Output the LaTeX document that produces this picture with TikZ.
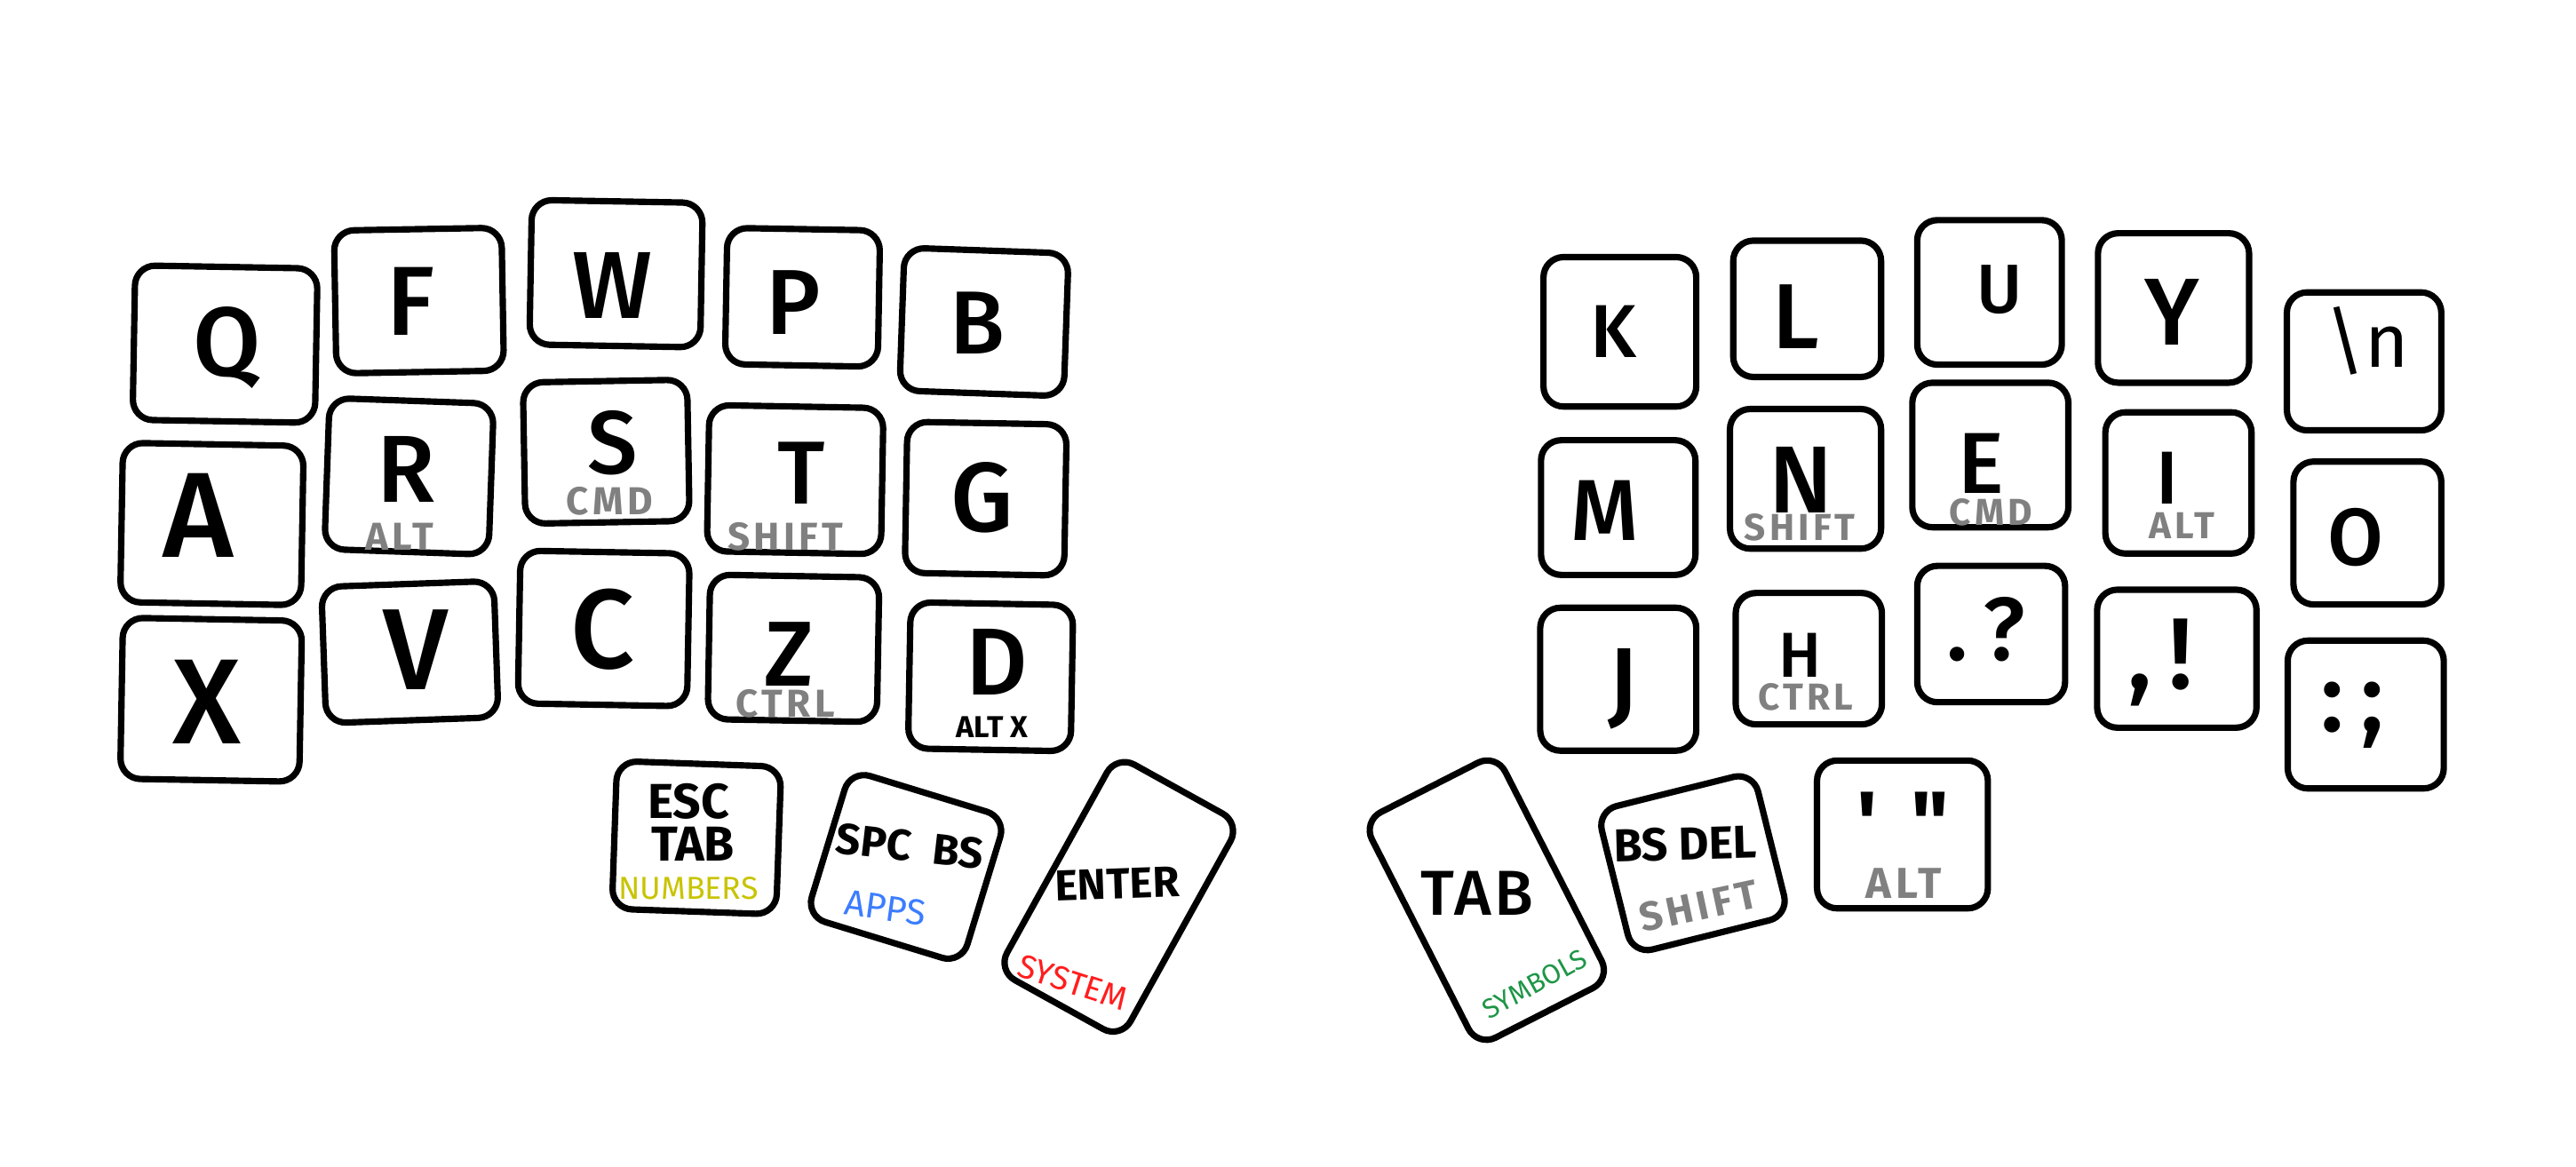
\documentclass[tikz,border=0pt]{standalone}
\usepackage{fontspec}
\setmainfont{Fira Sans}
\newfontfamily\medfont{Fira Sans Medium}
\definecolor{modgray}{RGB}{128,128,128}
\definecolor{numyellow}{RGB}{200,196,0}
\definecolor{appsblue}{RGB}{60,125,255}
\definecolor{sysred}{RGB}{255,30,30}
\definecolor{symgreen}{RGB}{30,150,70}
\begin{document}
\begin{tikzpicture}[x=0.02cm,y=-0.02cm,
  keybox/.style n args={3}{draw=black, line width=2.2pt, rounded corners=7pt,
    minimum width=#1*0.02cm, minimum height=#2*0.02cm, rotate=#3, inner sep=0pt, outer sep=0pt},
  letter/.style={font=\fontsize{#1}{#1}\selectfont\medfont, inner sep=0pt, text depth=0pt},
  midtext/.style={font=\fontsize{#1}{#1}\selectfont\bfseries, inner sep=0pt, text depth=0pt},
  modlabel/.style={text=modgray, font=\fontsize{#1}{#1}\selectfont\bfseries\addfontfeatures{LetterSpace=10}, inner sep=0pt, text depth=0pt},
  layerlabel/.style={font=\fontsize{#1}{#1}\selectfont, inner sep=0pt, text depth=0pt}]
\useasboundingbox (0,0) rectangle (1568,710);
% ---------- left half ----------
\node[keybox={111}{94}{-1}] (kq) at (137,209.5) {};
\node[keybox={102}{87}{1}] (kf) at (255,183) {};
\node[keybox={104}{88}{-1}] (kw) at (375,166.6) {};
\node[keybox={93}{83}{-1}] (kp) at (488.5,181) {};
\node[keybox={100}{87}{-2}] (kb) at (599,196) {};
\node[keybox={110}{97}{-1}] (ka) at (129,319) {};
\node[keybox={100}{92}{-2}] (kr) at (249,290) {};
\node[keybox={100}{86}{1}] (ks) at (369,275) {};
\node[keybox={106}{89}{-1}] (kt) at (484,292) {};
\node[keybox={97}{92}{-1}] (kg) at (600,303.6) {};
\node[keybox={109}{98}{-1}] (kx) at (128.5,426) {};
\node[keybox={105}{83}{2}] (kv) at (249.5,397) {};
\node[keybox={103}{93}{-1}] (kc) at (367.5,382.6) {};
\node[keybox={103}{88}{-1}] (kz) at (483,394.7) {};
\node[keybox={99}{89}{-1}] (kd) at (603,412) {};
\node[keybox={100}{90}{-2}] (kesc) at (424,510) {};
\node[keybox={99}{93}{-17}] (kspc) at (551.5,527.75) {};
\node[keybox={86}{150}{-29}] (kent) at (681,546) {};
% labels left
\node[letter=34] (lq) at (138,207.7) {Q};
\node[letter=34] (lf) at (250,183.5) {F};
\node[letter=33] (lw) at (373,173.9) {W};
\node[letter=32] (lp) at (483,184.1) {P};
\node[letter=31] (lb) at (595,196.8) {B};
\node[letter=42] (la) at (120.5,313.9) {A};
\node[letter=33] (lr) at (247,285.5) {R};
\node[modlabel=13.5] (mr) at (243,327) {ALT};
\node[letter=31] (ls) at (373,269.2) {S};
\node[modlabel=13.5] (ms) at (371,305) {CMD};
\node[letter=31] (lt) at (488,288) {T};
\node[modlabel=13.5] (mt) at (478,326.5) {SHIFT};
\node[letter=34] (lg) at (598,302.4) {G};
\node[letter=42] (lx) at (126,427.4) {X};
\node[letter=40] (lv) at (253,395.4) {V};
\node[letter=39] (lc) at (367,382.7) {C};
\node[letter=32] (lz) at (480,398) {Z};
\node[modlabel=13.5] (mz) at (478,428) {CTRL};
\node[letter=33] (ld) at (607,403.2) {D};
\node[font=\fontsize{10.5}{10.5}\selectfont\bfseries, inner sep=0pt, text depth=0pt] (md) at (604,442.5) {ALT X};
\node[midtext=17] (lesc) at (419,487.6) {ESC};
\node[midtext=17] (ltab) at (421.8,513.6) {TAB};
\node[layerlabel=11, text=numyellow] (lnum) at (419,540.7) {NUMBERS};
\node[midtext=15, rotate=-6.5] (lspc) at (554,515) {SPC\hspace{0.5em}BS};
\node[layerlabel=12.5, text=appsblue, rotate=-8] (lapps) at (539,552.5) {APPS};
\node[midtext=15, rotate=2] (lent) at (680,538) {ENTER};
\node[layerlabel=11.5, text=sysred, rotate=-18] (lsys) at (653,598) {SYSTEM};
% ---------- right half ----------
\node[keybox={93}{91}{0}] (kk) at (986,202) {};
\node[keybox={90}{83}{0}] (kl) at (1100,188) {};
\node[keybox={88}{88}{0}] (ku) at (1211,178) {};
\node[keybox={92}{91}{0}] (ky) at (1323,187.5) {};
\node[keybox={94}{84}{0}] (knl) at (1439,220) {};
\node[keybox={94}{82}{0}] (km) at (985,309) {};
\node[keybox={92}{85}{0}] (kn) at (1099,291.5) {};
\node[keybox={95}{88}{0}] (ke) at (1211.5,277) {};
\node[keybox={89}{86}{0}] (ki) at (1326,294) {};
\node[keybox={90}{87}{0}] (ko) at (1441,324.5) {};
\node[keybox={95}{87}{0}] (kj) at (985,413.5) {};
\node[keybox={89}{80}{0}] (kh) at (1101,401) {};
\node[keybox={90}{83}{0}] (kqm) at (1212,386) {};
\node[keybox={97}{84}{0}] (kex) at (1325,401) {};
\node[keybox={95}{90}{0}] (kcl) at (1440,435) {};
\node[keybox={91}{154}{27}] (ktab) at (905,548) {};
\node[keybox={98}{90}{14}] (kbs) at (1030.5,525.5) {};
\node[keybox={104}{90}{0}] (kquo) at (1158,508) {};
% labels right
\node[letter=26] (lk) at (982,201.7) {K};
\node[letter=32] (ll) at (1093,193) {L};
\node[letter=24] (lu) at (1217,176) {U};
\node[letter=33] (ly) at (1322,190) {Y};
\node[font=\fontsize{26}{26}\selectfont, inner sep=0pt, text depth=0pt] (lnl) at (1441,205) {\textbackslash n};
\node[letter=30] (lm) at (977,311) {M};
\node[letter=33] (ln) at (1096.5,292) {N};
\node[modlabel=13] (mn) at (1095.6,321) {SHIFT};
\node[letter=30] (le) at (1206,282) {E};
\node[modlabel=13] (me) at (1212,311.5) {CMD};
\node[letter=26] (li) at (1319,291) {I};
\node[modlabel=13] (mi) at (1328,320) {ALT};
\node[letter=28] (lo) at (1434,327) {O};
\node[letter=33] (lj) at (988,415) {J};
\node[letter=22] (lh) at (1095.5,399) {H};
\node[modlabel=13] (mh) at (1099,424) {CTRL};
\node[letter=31] (lqm) at (1209,383) {.\,?};
\node[letter=35] (lex) at (1315,398) {,\,!};
\node[letter=34] (lcl) at (1432,430) {:\,;};
\node[font=\fontsize{22}{22}\selectfont\medfont\addfontfeatures{LetterSpace=5}, inner sep=0pt, text depth=0pt] (ltabr) at (899,544) {TAB};
\node[layerlabel=9.5, text=symgreen, rotate=29] (lsym) at (934,599) {SYMBOLS};
\node[midtext=16, rotate=1.5] (lbs) at (1026,513.6) {BS DEL};
\node[modlabel=14, rotate=12] (mbs) at (1034,551.5) {SHIFT};
\node[font=\fontsize{30}{30}\selectfont\bfseries, inner sep=0pt, anchor=north] (lsq) at (1136.5,482) {\XeTeXglyph\XeTeXcharglyph"0027\relax};
\node[font=\fontsize{30}{30}\selectfont\bfseries, inner sep=0pt, anchor=north] (ldq) at (1175,482) {\XeTeXglyph\XeTeXcharglyph"0022\relax};
\node[modlabel=15] (mquo) at (1158.7,538) {ALT};
\end{tikzpicture}
\end{document}
